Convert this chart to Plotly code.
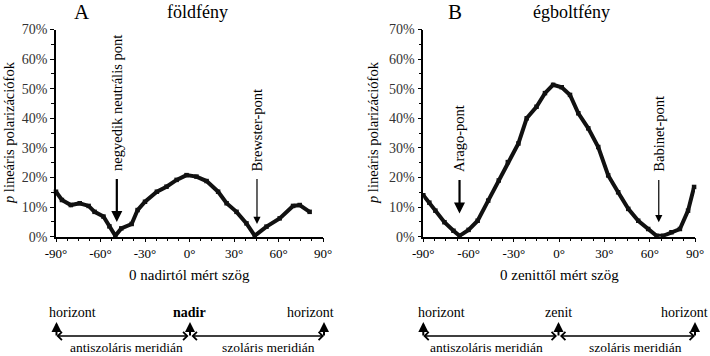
import plotly.graph_objects as go

# Panel A: földfény (angle from nadir, polarization %)
a_angle = [-90, -86, -80, -74, -68, -64, -58, -54, -50, -46, -39, -35, -30, -22, -15.5, -8.7, -2, 4.7, 11.5, 19.3, 25, 31.7, 38.4, 44, 51.9, 60.8, 69.8, 74.3, 81]
a_pol = [15.2, 12.4, 10.7, 11.3, 10.4, 8.4, 6.8, 3.5, 0.3, 2.8, 4.3, 9.0, 11.8, 15.2, 16.9, 19.2, 20.8, 20.3, 18.8, 15.2, 11.3, 8.4, 4.5, 0.3, 3.4, 6.2, 10.4, 10.7, 8.4]

# Panel B: égboltfény (angle from zenith, polarization %)
b_angle = [-90, -86, -82, -76, -70, -66, -60, -54, -47, -40, -34, -27, -21.5, -15, -9.4, -4, 1.7, 7.2, 12.7, 19.3, 25.9, 32.5, 39.1, 45.8, 52.4, 59, 64.5, 69, 74.4, 80, 85.4, 89.4]
b_pol = [14.0, 11.5, 8.8, 4.9, 2.0, 0.3, 2.3, 5.4, 12.2, 19.0, 25.2, 31.5, 40.0, 43.9, 48.5, 51.3, 50.5, 47.9, 41.7, 36.6, 30.3, 20.7, 15.0, 9.4, 5.4, 2.6, 0.3, 0.3, 1.5, 2.6, 8.8, 16.8]

x_ticks = [-90, -60, -30, 0, 30, 60, 90]
x_ticklabels = ["-90°", "-60°", "-30°", "0°", "30°", "60°", "90°"]
y_ticks = [0, 10, 20, 30, 40, 50, 60, 70]
y_ticklabels = ["0%", "10%", "20%", "30%", "40%", "50%", "60%", "70%"]

W, H = 710, 356
SERIF = "Liberation Serif, Times New Roman, DejaVu Serif, serif"

def px(x):
    return x / W

def py(y):
    return 1 - y / H

fig = go.Figure()
fig.add_trace(go.Scatter(x=a_angle, y=a_pol, mode="lines+markers", xaxis="x", yaxis="y",
                         line=dict(color="#111", width=4),
                         marker=dict(symbol="square", size=4.5, color="#111"),
                         cliponaxis=False, showlegend=False))
fig.add_trace(go.Scatter(x=b_angle, y=b_pol, mode="lines+markers", xaxis="x2", yaxis="y2",
                         line=dict(color="#111", width=4),
                         marker=dict(symbol="square", size=4.5, color="#111"),
                         cliponaxis=False, showlegend=False))

def xax(domain, anchor):
    return dict(domain=domain, anchor=anchor, range=[-90, 90], tickmode="array",
                tickvals=x_ticks, ticktext=x_ticklabels, showline=True, linecolor="black",
                linewidth=1.5, ticks="outside", ticklen=4, tickwidth=1, tickcolor="black",
                minor=dict(dtick=7.5, tick0=-90, ticks="outside", ticklen=3, tickcolor="black"),
                showgrid=False, zeroline=False, automargin=False,
                tickfont=dict(family=SERIF, size=13, color="black"))

def yax(domain, anchor):
    return dict(domain=domain, anchor=anchor, range=[0, 70], tickmode="array",
                tickvals=y_ticks, ticktext=y_ticklabels, showline=True, linecolor="black",
                linewidth=1.5, ticks="outside", ticklen=4, tickwidth=1, tickcolor="black",
                minor=dict(dtick=5, tick0=0, ticks="outside", ticklen=3, tickcolor="black"),
                showgrid=False, zeroline=False, automargin=False,
                tickfont=dict(family=SERIF, size=14, color="#333"))

ydom = [py(236.7), py(29.5)]
fig.update_layout(
    template="none",
    width=W, height=H, margin=dict(l=0, r=0, t=0, b=0, pad=0, autoexpand=False),
    paper_bgcolor="white", plot_bgcolor="white",
    xaxis=xax([px(56), px(323)], "y"),
    yaxis=yax(ydom, "x"),
    xaxis2=xax([px(423.3), px(695)], "y2"),
    yaxis2=yax(ydom, "x2"),
    font=dict(family=SERIF, color="black"),
    showlegend=False,
)

ann = []
def text(x, y, s, size=13, **kw):
    d = dict(xref="paper", yref="paper", x=px(x), y=py(y), text=s, showarrow=False,
             font=dict(family=SERIF, size=size, color="black"), xanchor="center", yanchor="middle")
    d.update(kw)
    ann.append(d)

# titles
text(82, 12, "A", size=21)
text(197, 12, "földfény", size=18)
text(455, 12, "B", size=21)
text(571, 12, "égboltfény", size=18)

# y-axis titles
text(9, 133, "<i>p</i> lineáris polarizációfok", size=14.5, textangle=-90)
text(373, 133, "<i>p</i> lineáris polarizációfok", size=14.5, textangle=-90)

# x-axis titles
text(190, 275, "0 nadirtól mért szög", size=15)
text(559, 275, "0 zenittől mért szög", size=15)

# point annotations (arrows + rotated labels)
def point(xa, ya, xv, tip, tail, label, width):
    ann.append(dict(xref=xa, yref=ya, axref=xa, ayref=ya, x=xv, y=tip, ax=xv, ay=tail,
                    showarrow=True, arrowhead=2, arrowsize=1.2 if width < 2 else 1,
                    arrowwidth=width, arrowcolor="black", text=""))
    ann.append(dict(xref=xa, yref=ya, x=xv, y=tail + 1.5, text=label, showarrow=False,
                    textangle=-90, xanchor="center", yanchor="bottom",
                    font=dict(family=SERIF, size=14.5, color="black")))

point("x", "y", -49, 5.0, 20, "negyedik neutrális pont", 2.2)
point("x", "y", 45.5, 4.3, 20, "Brewster-pont", 1.2)
point("x2", "y2", -66, 7.8, 19.7, "Arago-pont", 2.2)
point("x2", "y2", 66, 4.9, 19.7, "Babinet-pont", 1.2)

# bottom diagrams
def diagram(xl, xc, xr, top_labels, bottom_labels, top_pos, bot_pos):
    for x in (xl, xc, xr):
        ann.append(dict(xref="paper", yref="paper", x=px(x), y=py(322), ax=0, ay=15,
                        showarrow=True, arrowhead=2, arrowsize=1, arrowwidth=2,
                        arrowcolor="black", text=""))
    for a, b in ((xc, xl), (xc, xr)):
        ann.append(dict(xref="paper", yref="paper", axref="pixel", ayref="pixel",
                        x=px(b), y=py(336), ax=a - b, ay=0, showarrow=True,
                        arrowside="end+start", arrowhead=4, startarrowhead=4,
                        arrowsize=1, startarrowsize=1, arrowwidth=1.6,
                        arrowcolor="black", text=""))
    for s, x in zip(top_labels, top_pos):
        text(x, 312, s, size=14)
    for s, x in zip(bottom_labels, bot_pos):
        text(x, 347.5, s, size=13.5)

diagram(56.5, 190, 324, ["horizont", "<b>nadir</b>", "horizont"],
        ["antiszoláris meridián", "szoláris meridián"], [72, 190, 310], [126, 268])
diagram(423.3, 558.5, 695, ["horizont", "zenit", "horizont"],
        ["antiszoláris meridián", "szoláris meridián"], [442, 558, 684], [486, 635])

fig.update_layout(annotations=ann)
fig.write_html("out.html", config={"displayModeBar": False},
               post_script="document.body.style.margin='0';document.body.style.overflow='hidden';")
